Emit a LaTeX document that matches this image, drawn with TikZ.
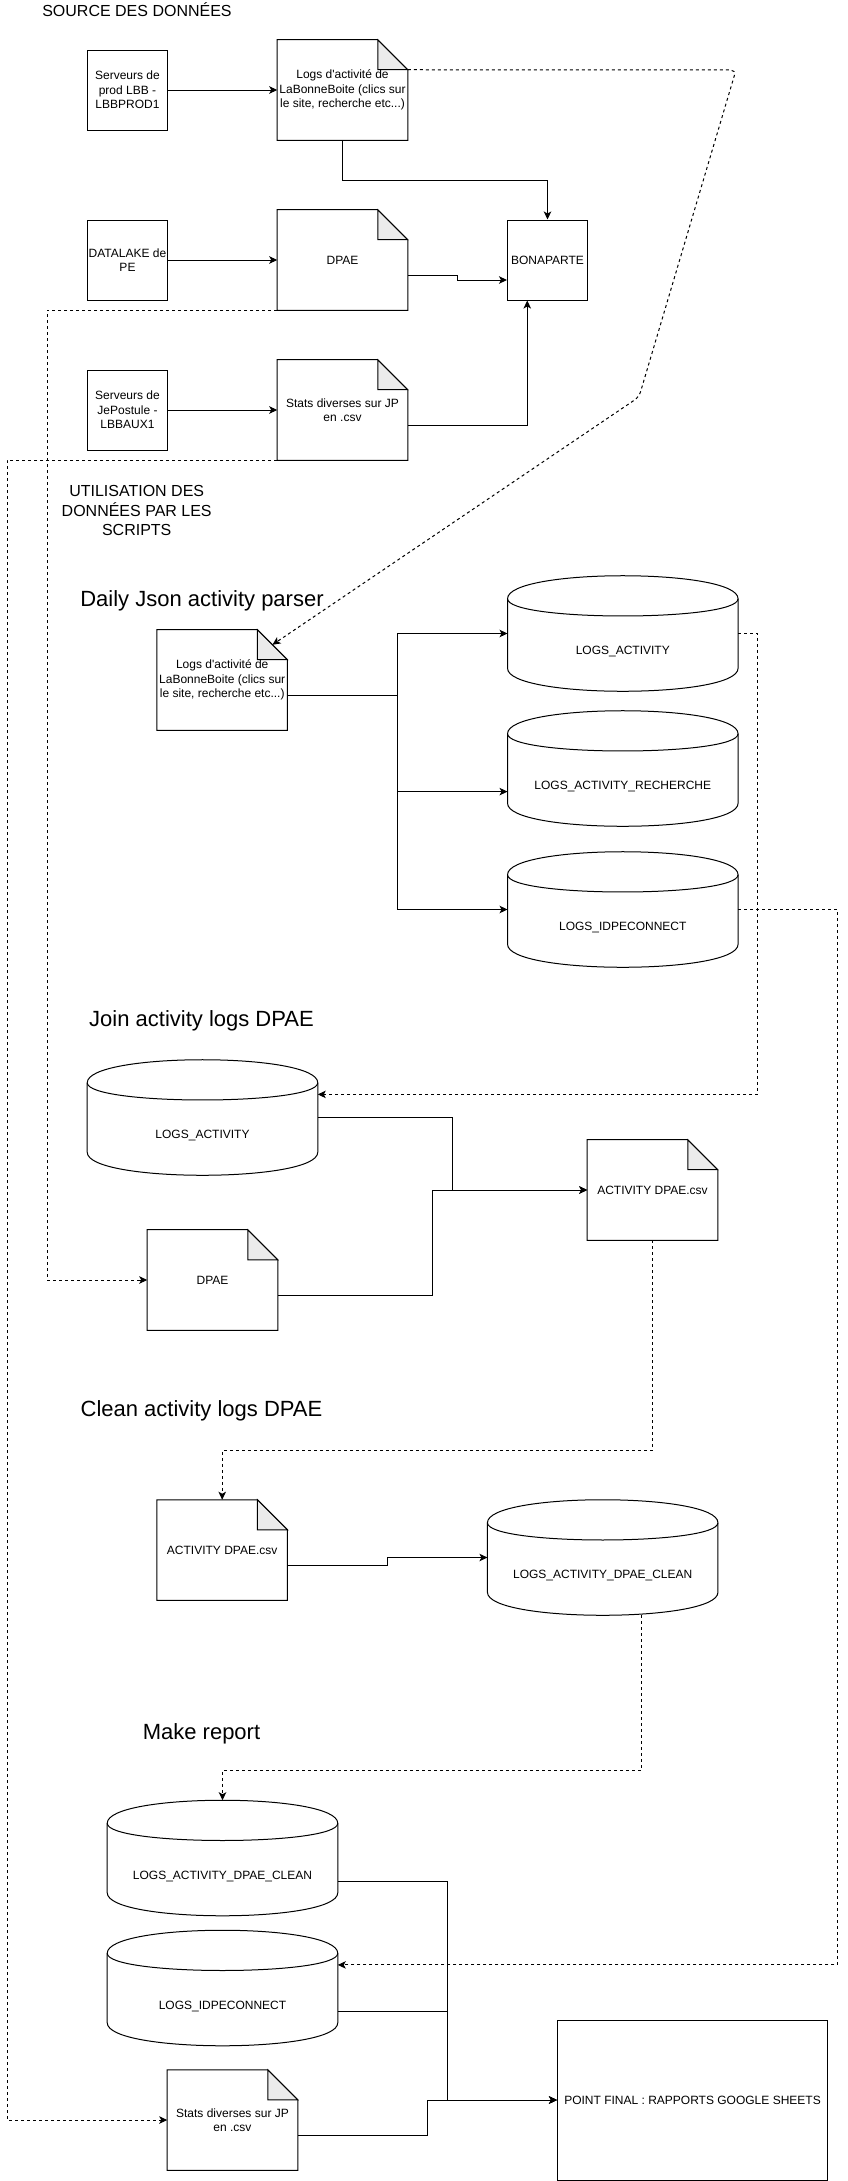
\documentclass[tikz,border=0pt]{standalone}
\usepackage{fontspec}
\setmainfont{Liberation Sans}[Ligatures=TeXOff]
\usetikzlibrary{arrows.meta,calc}
\definecolor{foldgray}{HTML}{EBEBEB}
\newcommand{\docshape}[1]{%
  \draw[line, fill=foldgray, line join=miter] ($(#1.north east)+(-30,0)$) -- ($(#1.north east)+(-30,30)$) -- ($(#1.north east)+(0,30)$) -- cycle;
  \draw[line, line join=miter] (#1.north west) -- ($(#1.north east)+(-30,0)$) -- ($(#1.north east)+(0,30)$) -- (#1.south east) -- (#1.south west) -- cycle;
}
\newcommand{\dbshape}[1]{%
  \draw[line] ($(#1.north west)+(0,23)$) .. controls ($(#1.north west)+(0,-7.667)$) and ($(#1.north east)+(0,-7.667)$) .. ($(#1.north east)+(0,23)$) -- ($(#1.south east)+(0,-23)$) .. controls ($(#1.south east)+(0,7.667)$) and ($(#1.south west)+(0,7.667)$) .. ($(#1.south west)+(0,-23)$) -- cycle;
  \draw[line] ($(#1.north west)+(0,23)$) .. controls ($(#1.north west)+(0,46)$) and ($(#1.north east)+(0,46)$) .. ($(#1.north east)+(0,23)$);
}
\begin{document}
\begin{tikzpicture}[x=0.75pt,y=-0.75pt,
  line/.style={line width=0.75pt, draw=black},
  arr/.style={line, -{Stealth[length=6pt,width=5.6pt,inset=1.5pt]}},
  dashline/.style={line, dash pattern=on 2.25pt off 2.25pt},
  darr/.style={arr, dash pattern=on 2.25pt off 2.25pt},
  txt/.style={font=\fontsize{9}{10.8}\selectfont, align=center},
  srvbox/.style={txt, draw, line width=0.75pt, minimum width=60pt, minimum height=60pt, inner sep=0pt},
  docnode/.style={txt, minimum width=97.5pt, minimum height=75pt, inner sep=0pt},
  cylnode/.style={minimum width=172.5pt, minimum height=86.25pt, inner sep=0pt},
  cyltext/.style={txt, inner sep=0pt},
  heading/.style={font=\fontsize{16.5}{19.8}\selectfont, inner sep=0pt},
  sectitle/.style={font=\fontsize{12}{14.4}\selectfont, align=center, inner sep=0pt},
]
\fill[white] (0,0) rectangle (847,2181);
\useasboundingbox (0,0) rectangle (847,2181);

% ---------- titles ----------
\node[sectitle] (t1) at (137,10) {SOURCE DES DONNÉES};
\node[sectitle] (t2) at (136.7,510.5) {UTILISATION DES\\DONNÉES PAR LES\\SCRIPTS};
\node[heading] (h1) at (202,601) {Daily Json activity parser};
\node[heading] (h2) at (201.5,1021) {Join activity logs DPAE};
\node[heading] (h3) at (201.5,1410.6) {Clean activity logs DPAE};
\node[heading] (h4) at (201.5,1734) {Make report};

% ---------- sources ----------
\node[srvbox] (s1) at (127.5,90) {Serveurs de\\prod LBB -\\LBBPROD1};
\node[srvbox] (s2) at (127.5,260) {DATALAKE de\\PE};
\node[srvbox] (s3) at (127.5,410) {Serveurs de\\JePostule -\\LBBAUX1};
\node[srvbox] (bon) at (547.5,260) {BONAPARTE};

\node[docnode] (l1) at (342.5,90) {Logs d'activité de\\LaBonneBoite (clics sur\\le site, recherche etc...)};
\docshape{l1}
\node[docnode] (d1) at (342.5,260) {DPAE};
\docshape{d1}
\node[docnode] (st1) at (342.5,410) {Stats diverses sur JP\\en .csv};
\docshape{st1}

% ---------- daily json ----------
\node[docnode] (l2) at (222.2,680) {Logs d'activité de\\LaBonneBoite (clics sur\\le site, recherche etc...)};
\docshape{l2}
\node[cylnode] (c1) at (622.8,633.5) {};
\dbshape{c1}
\node[cyltext] (c1t) at ($(c1)+(0,18)$) {LOGS\_ACTIVITY};
\node[cylnode] (c2) at (622.8,768.5) {};
\dbshape{c2}
\node[cyltext] (c2t) at ($(c2)+(0,18)$) {LOGS\_ACTIVITY\_RECHERCHE};
\node[cylnode] (c3) at (622.8,909.5) {};
\dbshape{c3}
\node[cyltext] (c3t) at ($(c3)+(0,18)$) {LOGS\_IDPECONNECT};

% ---------- join ----------
\node[cylnode] (jc1) at (202.5,1117.5) {};
\dbshape{jc1}
\node[cyltext] (jc1t) at ($(jc1)+(0,18)$) {LOGS\_ACTIVITY};
\node[docnode] (ad1) at (652.5,1190) {ACTIVITY DPAE.csv};
\docshape{ad1}
\node[docnode] (d2) at (212.5,1280) {DPAE};
\docshape{d2}

% ---------- clean ----------
\node[docnode] (ad2) at (222.2,1550) {ACTIVITY DPAE.csv};
\docshape{ad2}
\node[cylnode] (cc) at (602.7,1557.5) {};
\dbshape{cc}
\node[cyltext] (cct) at ($(cc)+(0,18)$) {LOGS\_ACTIVITY\_DPAE\_CLEAN};

% ---------- report ----------
\node[cylnode] (rc1) at (222.5,1858) {};
\dbshape{rc1}
\node[cyltext] (rc1t) at ($(rc1)+(0,18)$) {LOGS\_ACTIVITY\_DPAE\_CLEAN};
\node[cylnode] (rc2) at (222.5,1988) {};
\dbshape{rc2}
\node[cyltext] (rc2t) at ($(rc2)+(0,18)$) {LOGS\_IDPECONNECT};
\node[docnode] (st2) at (232.5,2120) {Stats diverses sur JP\\en .csv};
\docshape{st2}
\node[txt, draw, line width=0.75pt, minimum width=202.5pt, minimum height=120pt, inner sep=0pt] (pf) at (692.5,2100) {POINT FINAL : RAPPORTS GOOGLE SHEETS};

% ---------- connectors ----------
\draw[arr] (s1) -- (l1);
\draw[arr] (l1.south) -- ++(0,40) -| (bon.north);
\draw[arr] (s2) -- (d1);
\draw[arr] ($(d1.east)+(0,15)$) -- (457.5,275) |- ($(bon.west)+(0,20)$);
\draw[arr] (s3) -- (st1);
\draw[arr] ($(st1.east)+(0,15)$) -| ($(bon.south west)!0.25!(bon.south east)$);

\draw[darr, rounded corners=4pt] ($(l1.north east)+(0,30)$) -- (736,70) -- (639,397) -- ($(l2.north east)+(-15,15)$);

\draw[arr] ($(l2.east)+(0,15)$) -- (397.5,695) |- (c1.west);
\draw[arr] ($(l2.east)+(0,15)$) -- (397.5,695) |- ($(c2.north west)!0.7!(c2.south west)$);
\draw[arr] ($(l2.east)+(0,15)$) -- (397.5,695) |- (c3.west);

\draw[darr] (c1.east) -- ++(19.6,0) |- ($(jc1.north east)!0.3!(jc1.south east)$);
\draw[darr] (c3.east) -- ++(99.5,0) |- ($(rc2.north east)!0.3!(rc2.south east)$);

\draw[arr] (jc1.east) -- ++(135,0) |- (ad1.west);
\draw[arr] ($(d2.east)+(0,15)$) -- ++(154.5,0) |- (ad1.west);
\draw[darr] (d1.south west) -- ++(-230,0) |- (d2.west);

\draw[darr] (ad1.south) -- ++(0,210) -| (ad2.north);
\draw[arr] ($(ad2.east)+(0,15)$) -- ++(100.3,0) |- (cc.west);
\draw[darr] ($(cc.south west)!0.67!(cc.south east)$) -- ++(0,155) -| (rc1.north);

\draw[arr] ($(rc1.north east)!0.7!(rc1.south east)$) -- ++(109.7,0) |- (pf.west);
\draw[arr] ($(rc2.north east)!0.7!(rc2.south east)$) -- ++(109.7,0) |- (pf.west);
\draw[arr] ($(st2.east)+(0,15)$) -- ++(130,0) |- (pf.west);
\draw[darr] (st1.south west) -- ++(-270,0) |- (st2.west);
\end{tikzpicture}
\end{document}
